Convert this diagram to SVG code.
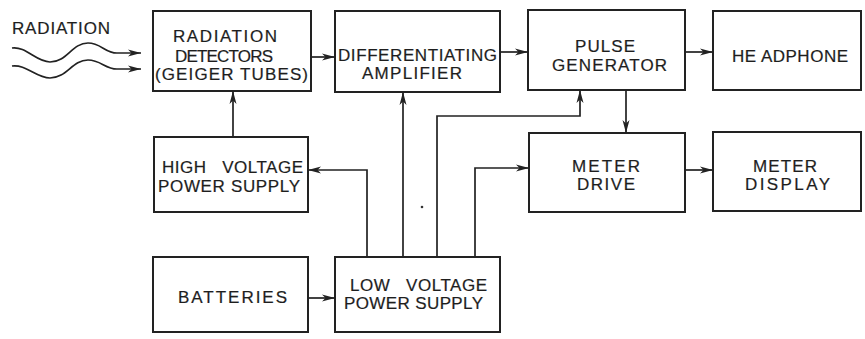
<svg xmlns="http://www.w3.org/2000/svg" width="865" height="339" viewBox="0 0 865 339">
<style>
.box{fill:#fff;stroke:#222;stroke-width:2}
.t{font-family:"Liberation Sans",Arial,sans-serif;font-size:17px;fill:#1e1e1e;stroke:#1e1e1e;stroke-width:0.2}
.c{fill:none;stroke:#222;stroke-width:1.7}
</style>
<defs>
<marker id="ah" markerUnits="userSpaceOnUse" markerWidth="14" markerHeight="8" refX="13" refY="4" orient="auto">
<path d="M0,0.5 L13,4 L0,7.5 L3.5,4 z" fill="#222"/>
</marker>
</defs>
<rect width="865" height="339" fill="#fff"/>
<text class="t" x="12" y="34" textLength="98" lengthAdjust="spacing">RADIATION</text>
<g id="detectors">
<rect class="box" x="153" y="11" width="158" height="80"/>
<text class="t" x="173" y="42" textLength="104" lengthAdjust="spacing">RADIATION</text>
<text class="t" x="175" y="62" textLength="98" lengthAdjust="spacing">DETECTORS</text>
<text class="t" x="155" y="80" textLength="153" lengthAdjust="spacing">(GEIGER TUBES)</text>
</g>
<g id="diffamp">
<rect class="box" x="335" y="11" width="165" height="81"/>
<text class="t" x="338" y="61" textLength="159" lengthAdjust="spacing">DIFFERENTIATING</text>
<text class="t" x="362" y="79" textLength="100" lengthAdjust="spacing">AMPLIFIER</text>
</g>
<g id="pulse">
<rect class="box" x="528" y="10" width="157" height="80"/>
<text class="t" x="575" y="52" textLength="60" lengthAdjust="spacing">PULSE</text>
<text class="t" x="552" y="71" textLength="115" lengthAdjust="spacing">GENERATOR</text>
</g>
<g id="headphone">
<rect class="box" x="713" y="11" width="148" height="79"/>
<text class="t" x="732" y="62" textLength="116" lengthAdjust="spacing" xml:space="preserve">HE ADPHONE</text>
</g>
<g id="hv">
<rect class="box" x="154" y="137" width="154" height="75"/>
<text class="t" x="162" y="173" textLength="141" lengthAdjust="spacing" xml:space="preserve">HIGH   VOLTAGE</text>
<text class="t" x="158" y="192" textLength="142" lengthAdjust="spacing">POWER SUPPLY</text>
</g>
<g id="meterdrive">
<rect class="box" x="529" y="133" width="156" height="79"/>
<text class="t" x="572" y="172" textLength="68" lengthAdjust="spacing">METER</text>
<text class="t" x="577" y="190" textLength="58" lengthAdjust="spacing">DRIVE</text>
</g>
<g id="meterdisplay">
<rect class="box" x="713" y="132" width="148" height="79"/>
<text class="t" x="753" y="172" textLength="64" lengthAdjust="spacing">METER</text>
<text class="t" x="745" y="190" textLength="85" lengthAdjust="spacing">DISPLAY</text>
</g>
<g id="batteries">
<rect class="box" x="153" y="257" width="155" height="75"/>
<text class="t" x="178" y="303" textLength="109" lengthAdjust="spacing">BATTERIES</text>
</g>
<g id="lv">
<rect class="box" x="335" y="257" width="165" height="75"/>
<text class="t" x="350" y="291" textLength="137" lengthAdjust="spacing" xml:space="preserve">LOW   VOLTAGE</text>
<text class="t" x="344" y="309" textLength="139" lengthAdjust="spacing">POWER SUPPLY</text>
</g>
<g id="connectors">
<path class="c" d="M12,48 C26,46 36,62 50,62 C67,62 72,43 88,43 C101,43 105,53 117,53 L141,53" marker-end="url(#ah)"/>
<path class="c" d="M12,66 C26,64 36,78 50,78 C67,78 72,60 88,60 C101,60 105,69 117,69 L141,69" marker-end="url(#ah)"/>
<path class="c" d="M311,57 L335,57" marker-end="url(#ah)"/>
<path class="c" d="M500,52 L528,52" marker-end="url(#ah)"/>
<path class="c" d="M685,52 L713,52" marker-end="url(#ah)"/>
<path class="c" d="M626,90 L626,133" marker-end="url(#ah)"/>
<path class="c" d="M685,170 L713,170" marker-end="url(#ah)"/>
<path class="c" d="M233,137 L233,91" marker-end="url(#ah)"/>
<path class="c" d="M308,298 L335,298" marker-end="url(#ah)"/>
<path class="c" d="M367,257 L367,170 L308,170" marker-end="url(#ah)"/>
<path class="c" d="M403,257 L403,92" marker-end="url(#ah)"/>
<path class="c" d="M437,257 L437,116 L580,116 L580,90" marker-end="url(#ah)"/>
<path class="c" d="M475,257 L475,168 L529,168" marker-end="url(#ah)"/>
</g>
<circle cx="422" cy="207" r="1.3" fill="#333"/>
</svg>
